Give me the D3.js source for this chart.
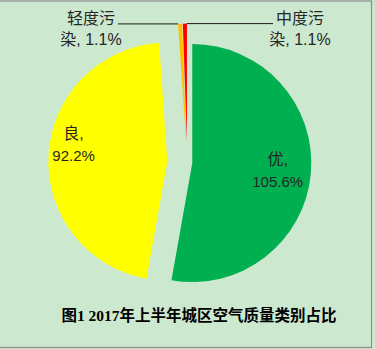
<!DOCTYPE html>
<html>
<head>
<meta charset="utf-8">
<script src="https://cdn.jsdelivr.net/npm/d3@7"></script>
<style>
  html, body { margin: 0; padding: 0; background: #cce8cf; }
  svg { display: block; }
</style>
</head>
<body>
<script>
// chart data
var categories = ["优", "良", "轻度污染", "中度污染"];
var values = [105.6, 92.2, 1.1, 1.1];
var valueLabels = ["105.6%", "92.2%", "1.1%", "1.1%"];
var titleText = "图1 2017年上半年城区空气质量类别占比";

// styling
var colors = ["#00b050", "#ffff00", "#ffc000", "#ff0000"];
var explode = [5, 20, 20, 20];

var width = 375, height = 349;
var cx = 187.3, cy = 162.6, radius = 119;

var svg = d3.select("body").append("svg")
    .attr("width", width)
    .attr("height", height);

svg.append("rect")
    .attr("x", -2).attr("y", 1)
    .attr("width", 373.5).attr("height", 346.5)
    .attr("fill", "#cce8cf")
    .attr("stroke", "#8c8c8c")
    .attr("stroke-width", 1.2);

var pie = d3.pie().sort(null).value(function (d) { return d; });
var arcs = pie(values);
var arc = d3.arc().innerRadius(0).outerRadius(radius);

function offset(d, i) {
    var mid = (d.startAngle + d.endAngle) / 2;
    return [explode[i] * Math.sin(mid), -explode[i] * Math.cos(mid)];
}

var g = svg.append("g").attr("transform", "translate(" + cx + "," + cy + ")");

g.selectAll("path.slice")
    .data(arcs)
    .enter().append("path")
    .attr("class", "slice")
    .attr("d", arc)
    .attr("fill", function (d, i) { return colors[i]; })
    .attr("transform", function (d, i) {
        var o = offset(d, i);
        return "translate(" + o[0] + "," + o[1] + ")";
    });

var font = "'Liberation Sans', 'Noto Sans CJK SC', sans-serif";
var txtColor = "#262626";

// inner labels (优, 良): placed along the slice's mid angle
var innerLab = [{ r: 0.72, da: 0.0 }, { r: 0.8, da: 0.12 }];
[0, 1].forEach(function (i) {
    var d = arcs[i];
    var o = offset(d, i);
    var mid = (d.startAngle + d.endAngle) / 2 + innerLab[i].da;
    var rr = radius * innerLab[i].r;
    var x = o[0] + rr * Math.sin(mid);
    var y = o[1] - rr * Math.cos(mid);
    var t = g.append("text")
        .attr("text-anchor", "middle")
        .attr("font-family", font)
        .attr("font-size", 15)
        .attr("fill", txtColor);
    t.append("tspan").attr("x", x).attr("y", y - 6).attr("font-size", 16).text(categories[i] + ",");
    t.append("tspan").attr("x", x).attr("y", y + 16).text(valueLabels[i]);
});

// outer labels with leader lines for the two small slices
var outer = [
    { i: 2, cxText: 91, lineEnd: 118, side: -1 },
    { i: 3, cxText: 300, lineEnd: 273, side: 1 }
];
outer.forEach(function (L) {
    var d = arcs[L.i];
    var o = offset(d, L.i);
    var tipAng = L.side < 0 ? d.startAngle : d.endAngle;
    var tx = cx + o[0] + radius * Math.sin(tipAng);
    var ty = cy + o[1] - radius * Math.cos(tipAng);
    svg.append("line")
        .attr("x1", tx).attr("y1", ty)
        .attr("x2", L.lineEnd).attr("y2", ty)
        .attr("stroke", "#1a1a1a")
        .attr("stroke-width", 1);
    var name = categories[L.i];
    var t = svg.append("text")
        .attr("text-anchor", "middle")
        .attr("font-family", font)
        .attr("font-size", 16)
        .attr("fill", txtColor);
    t.append("tspan").attr("x", L.cxText).attr("y", 24).text(name.slice(0, 3));
    t.append("tspan").attr("x", L.cxText).attr("y", 45).text(name.slice(3) + ", " + valueLabels[L.i]);
});

// title
svg.append("text")
    .attr("x", 199)
    .attr("y", 321)
    .attr("text-anchor", "middle")
    .attr("font-family", "'Liberation Serif', 'Noto Sans CJK SC', serif")
    .attr("font-weight", "bold")
    .attr("font-size", 15.5)
    .attr("fill", "#000")
    .text(titleText);
</script>
</body>
</html>
